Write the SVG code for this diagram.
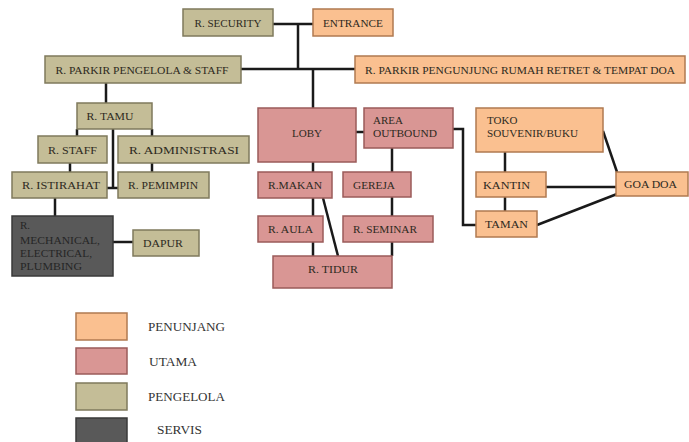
<svg xmlns="http://www.w3.org/2000/svg" width="689" height="442" viewBox="0 0 689 442">
<style>
.pj{fill:#FAC090;stroke:#B07A50;stroke-width:1.5}
.ut{fill:#D99694;stroke:#9A5B5A;stroke-width:1.5}
.pg{fill:#C4BD97;stroke:#7F7A5C;stroke-width:1.5}
.sv{fill:#595959;stroke:#3A3A3A;stroke-width:1.5}
text{font-family:"Liberation Serif","Times New Roman",serif;font-size:11px;fill:#2E2A1E}
.c{text-anchor:middle}
.sv-t{fill:#262626}
.lg{font-size:12px;fill:#333333}
#connectors path{fill:none;stroke:#1A1A1A;stroke-width:2.5}
</style>
<rect width="689" height="442" fill="#FFFFFF"/>
<g id="connectors">
<path d="M273 24H313"/>
<path d="M298 24V69"/>
<path d="M241 69H355"/>
<path d="M313 69V108"/>
<path d="M106 83V103"/>
<path d="M77 129V136"/>
<path d="M152 129V136"/>
<path d="M113 129V188"/>
<path d="M107 188H118"/>
<path d="M70 163V172"/>
<path d="M152 163V172"/>
<path d="M55 198V216"/>
<path d="M113 242H133"/>
<path d="M356 132H364"/>
<path d="M313 162V172"/>
<path d="M313 198V216"/>
<path d="M313 242V256"/>
<path d="M323 198L338 256"/>
<path d="M392 148V172"/>
<path d="M392 197V216"/>
<path d="M392 242V256"/>
<path d="M453 129H463V225H476"/>
<path d="M505 152V172"/>
<path d="M505 197V211"/>
<path d="M546 187H616"/>
<path d="M603 131L617 172"/>
<path d="M537 225L617 194"/>
</g>
<g id="security"><rect class="pg" x="183" y="9" width="90" height="27"/><text class="c" x="228" y="26.5" textLength="67" lengthAdjust="spacingAndGlyphs">R. SECURITY</text></g>
<g id="entrance"><rect class="pj" x="313" y="9" width="80" height="27"/><text class="c" x="353" y="26.5" textLength="60" lengthAdjust="spacingAndGlyphs">ENTRANCE</text></g>
<g id="parkir-pengelola"><rect class="pg" x="45" y="56" width="196" height="27"/><text class="c" x="142" y="73.5" textLength="173" lengthAdjust="spacingAndGlyphs">R. PARKIR PENGELOLA &amp; STAFF</text></g>
<g id="parkir-pengunjung"><rect class="pj" x="355" y="56" width="330" height="27"/><text class="c" x="520" y="73.5" textLength="310" lengthAdjust="spacingAndGlyphs">R. PARKIR PENGUNJUNG RUMAH RETRET &amp; TEMPAT DOA</text></g>
<g id="tamu"><rect class="pg" x="77" y="103" width="75" height="26"/><text class="c" x="110" y="120" textLength="47" lengthAdjust="spacingAndGlyphs">R. TAMU</text></g>
<g id="staff"><rect class="pg" x="38" y="136" width="69" height="27"/><text class="c" x="72.5" y="153.5" textLength="49" lengthAdjust="spacingAndGlyphs">R. STAFF</text></g>
<g id="administrasi"><rect class="pg" x="118" y="136" width="131" height="27"/><text class="c" x="184" y="153.5" textLength="110" lengthAdjust="spacingAndGlyphs">R. ADMINISTRASI</text></g>
<g id="istirahat"><rect class="pg" x="12" y="172" width="95" height="26"/><text class="c" x="61" y="189" textLength="78" lengthAdjust="spacingAndGlyphs">R. ISTIRAHAT</text></g>
<g id="pemimpin"><rect class="pg" x="118" y="172" width="91" height="26"/><text class="c" x="163" y="189" textLength="70" lengthAdjust="spacingAndGlyphs">R. PEMIMPIN</text></g>
<g id="mep"><rect class="sv" x="12" y="216" width="101" height="60"/>
<text class="sv-t" x="20" y="229">R.</text>
<text class="sv-t" x="20" y="243.5" textLength="80" lengthAdjust="spacingAndGlyphs">MECHANICAL,</text>
<text class="sv-t" x="20" y="256.5" textLength="72" lengthAdjust="spacingAndGlyphs">ELECTRICAL,</text>
<text class="sv-t" x="20" y="269.5" textLength="62" lengthAdjust="spacingAndGlyphs">PLUMBING</text></g>
<g id="dapur"><rect class="pg" x="133" y="230" width="66" height="26"/><text class="c" x="163" y="247" textLength="40" lengthAdjust="spacingAndGlyphs">DAPUR</text></g>
<g id="loby"><rect class="ut" x="258" y="108" width="98" height="54"/><text class="c" x="307" y="136.5" textLength="30" lengthAdjust="spacingAndGlyphs">LOBY</text></g>
<g id="area-outbound"><rect class="ut" x="364" y="108" width="89" height="40"/><text x="373" y="124">AREA</text><text x="373" y="136.5" textLength="64" lengthAdjust="spacingAndGlyphs">OUTBOUND</text></g>
<g id="makan"><rect class="ut" x="258" y="172" width="74" height="26"/><text class="c" x="295" y="189" textLength="54" lengthAdjust="spacingAndGlyphs">R.MAKAN</text></g>
<g id="gereja"><rect class="ut" x="343" y="172" width="68" height="25"/><text class="c" x="374" y="188.5" textLength="42" lengthAdjust="spacingAndGlyphs">GEREJA</text></g>
<g id="aula"><rect class="ut" x="258" y="216" width="65" height="26"/><text class="c" x="290.5" y="233" textLength="45" lengthAdjust="spacingAndGlyphs">R. AULA</text></g>
<g id="seminar"><rect class="ut" x="343" y="216" width="90" height="26"/><text class="c" x="385" y="233" textLength="64" lengthAdjust="spacingAndGlyphs">R. SEMINAR</text></g>
<g id="tidur"><rect class="ut" x="273" y="256" width="119" height="32"/><text class="c" x="333" y="272.5" textLength="50" lengthAdjust="spacingAndGlyphs">R. TIDUR</text></g>
<g id="toko"><rect class="pj" x="476" y="108" width="127" height="44"/><text x="487" y="124">TOKO</text><text x="487" y="136.5" textLength="91" lengthAdjust="spacingAndGlyphs">SOUVENIR/BUKU</text></g>
<g id="kantin"><rect class="pj" x="476" y="172" width="70" height="25"/><text class="c" x="506.5" y="188.5" textLength="47" lengthAdjust="spacingAndGlyphs">KANTIN</text></g>
<g id="taman"><rect class="pj" x="476" y="211" width="61" height="26"/><text class="c" x="506.5" y="228" textLength="43" lengthAdjust="spacingAndGlyphs">TAMAN</text></g>
<g id="goa-doa"><rect class="pj" x="616" y="172" width="72" height="24"/><text class="c" x="650.5" y="188" textLength="53" lengthAdjust="spacingAndGlyphs">GOA DOA</text></g>
<g id="legend">
<rect class="pj" x="76" y="313" width="51" height="27"/><text class="lg" x="148" y="331" textLength="77" lengthAdjust="spacingAndGlyphs">PENUNJANG</text>
<rect class="ut" x="76" y="348" width="51" height="26"/><text class="lg" x="149" y="365.5" textLength="48" lengthAdjust="spacingAndGlyphs">UTAMA</text>
<rect class="pg" x="76" y="383" width="51" height="27"/><text class="lg" x="148" y="401" textLength="77" lengthAdjust="spacingAndGlyphs">PENGELOLA</text>
<rect class="sv" x="76" y="418" width="51" height="26"/><text class="lg" x="157" y="433.5" textLength="45" lengthAdjust="spacingAndGlyphs">SERVIS</text>
</g>
</svg>
